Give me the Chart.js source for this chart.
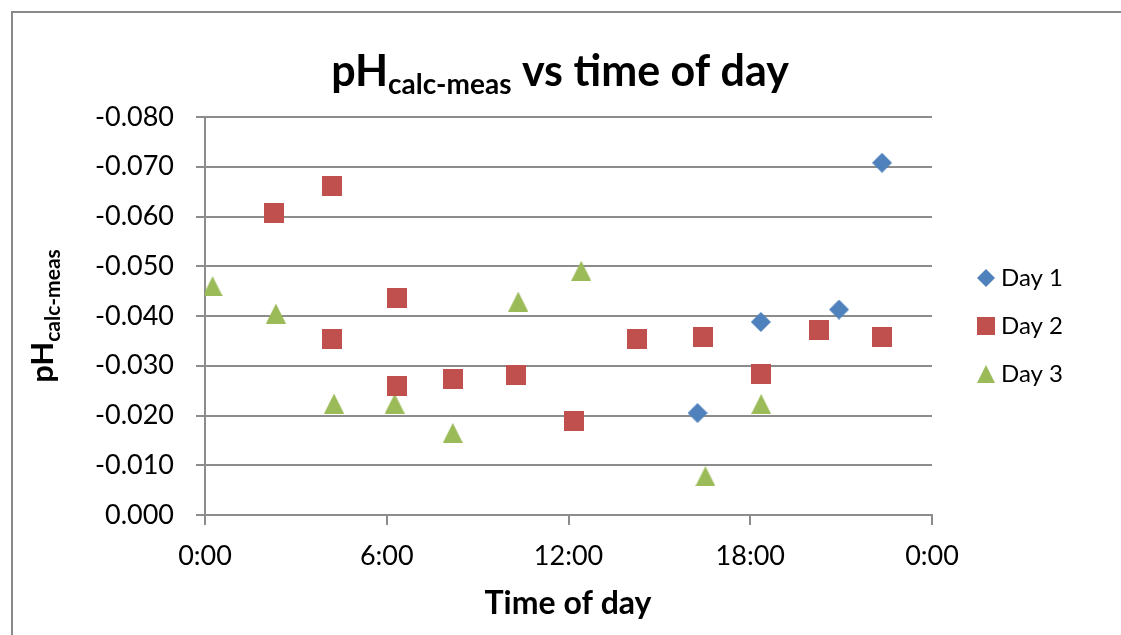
<!DOCTYPE html>
<html>
<head>
<meta charset="utf-8">
<title>pH calc-meas vs time of day</title>
<script src="https://cdn.jsdelivr.net/npm/chart.js@4.4.1/dist/chart.umd.min.js"></script>
<style>
    html, body { margin: 0; padding: 0; background: #fff; }
    .wrap { position: relative; width: 1121px; height: 635px; overflow: hidden; }
    .frame { position: absolute; left: 11px; top: 11px; width: 1200px; height: 700px; border: 2px solid #898989; }
    #phChart { position: absolute; left: 0; top: 0; }
</style>
</head>
<body>
<div class="wrap">
    <div class="frame"></div>
    <canvas id="phChart" width="1121" height="635"></canvas>
</div>
<script>
// values (x in hours of the day)
const day1Hours = [16.26, 18.35, 20.93, 22.35];
const day1Values = [-0.0205, -0.0388, -0.0413, -0.0708];

const day2Hours = [2.27, 4.18, 4.18, 6.35, 6.34, 8.18, 10.26, 12.18, 14.27, 16.43, 18.36, 20.26, 22.35];
const day2Values = [-0.0608, -0.0662, -0.0353, -0.0436, -0.0259, -0.0274, -0.0281, -0.0188, -0.0354, -0.0357, -0.0283, -0.0371, -0.0358];

const day3Hours = [0.25, 2.34, 4.26, 6.26, 8.18, 10.34, 12.42, 16.52, 18.36];
const day3Values = [-0.046, -0.0405, -0.0224, -0.0224, -0.0165, -0.0429, -0.0491, -0.0078, -0.0223];

const seriesNames = ['Day 1', 'Day 2', 'Day 3'];
const xTickLabels = ['0:00', '6:00', '12:00', '18:00', '0:00'];

const FONT = 'Lato, "Open Sans", sans-serif';
const GRID = '#8c8c8c';
const colors = ['#4F81BD', '#C0504D', '#9BBB59'];
const shapes = ['diamond', 'square', 'triangle'];

// Excel-like markers, centred on their bounding box
function makeMarker(shape, size, color) {
    const c = document.createElement('canvas');
    c.width = size;
    c.height = size;
    const g = c.getContext('2d');
    const h = size / 2;
    g.fillStyle = color;
    g.beginPath();
    if (shape === 'diamond') {
        g.moveTo(h, 0); g.lineTo(size, h); g.lineTo(h, size); g.lineTo(0, h);
    } else if (shape === 'square') {
        g.rect(0, 0, size, size);
    } else {
        g.moveTo(h, 0); g.lineTo(size, size); g.lineTo(0, size);
    }
    g.closePath();
    g.fill();
    return c;
}

function toPoints(xs, ys) {
    return xs.map((x, i) => ({ x: x, y: ys[i] }));
}

// draws "main" + subscript + "rest", centred on x=0 of the current transform
function drawSubText(ctx, main, sub, rest, mainFont, subFont, baseline, subShift) {
    ctx.font = mainFont;
    const w1 = ctx.measureText(main).width;
    const w3 = ctx.measureText(rest).width;
    ctx.font = subFont;
    const w2 = ctx.measureText(sub).width;
    let x = -(w1 + w2 + w3) / 2;
    ctx.textAlign = 'left';
    ctx.textBaseline = 'alphabetic';
    ctx.font = mainFont;
    ctx.fillText(main, x, baseline);
    x += w1;
    ctx.font = subFont;
    ctx.fillText(sub, x, baseline + subShift);
    x += w2;
    ctx.font = mainFont;
    ctx.fillText(rest, x, baseline);
}

const textPlugin = {
    id: 'textPlugin',
    afterDraw(chart) {
        const ctx = chart.ctx;
        ctx.save();
        ctx.fillStyle = '#000';

        // chart title
        ctx.save();
        ctx.translate(560, 0);
        drawSubText(ctx, 'pH', 'calc-meas', ' vs time of day',
            'bold 43px ' + FONT, 'bold 28px ' + FONT, 86, 8);
        ctx.restore();

        // y axis title
        ctx.save();
        ctx.translate(53, 316);
        ctx.rotate(-Math.PI / 2);
        drawSubText(ctx, 'pH', 'calc-meas', '',
            'bold 31px ' + FONT, 'bold 21px ' + FONT, 0, 7);
        ctx.restore();

        // x axis title
        ctx.font = 'bold 32px ' + FONT;
        ctx.textAlign = 'center';
        ctx.textBaseline = 'alphabetic';
        ctx.fillText('Time of day', 568, 614);

        // legend
        ctx.font = '24px ' + FONT;
        ctx.textAlign = 'left';
        ctx.textBaseline = 'middle';
        seriesNames.forEach((name, i) => {
            const y = 278 + i * 48;
            const m = makeMarker(shapes[i], 18, colors[i]);
            ctx.drawImage(m, 986 - 9, y - 9);
            ctx.fillText(name, 1001, y);
        });
        ctx.restore();
    }
};

const markers = shapes.map((s, i) => makeMarker(s, 20, colors[i]));

const ctx = document.getElementById('phChart').getContext('2d');
new Chart(ctx, {
    type: 'scatter',
    data: {
        datasets: [
            { label: seriesNames[0], data: toPoints(day1Hours, day1Values), pointStyle: markers[0], pointRadius: 10, backgroundColor: colors[0], borderColor: colors[0] },
            { label: seriesNames[1], data: toPoints(day2Hours, day2Values), pointStyle: markers[1], pointRadius: 10, backgroundColor: colors[1], borderColor: colors[1] },
            { label: seriesNames[2], data: toPoints(day3Hours, day3Values), pointStyle: markers[2], pointRadius: 10, backgroundColor: colors[2], borderColor: colors[2] }
        ]
    },
    options: {
        responsive: false,
        animation: false,
        layout: { padding: { top: 117, right: 189, bottom: 0, left: 0 } },
        plugins: {
            legend: { display: false },
            title: { display: false },
            tooltip: { enabled: false }
        },
        scales: {
            x: {
                type: 'linear',
                min: 0,
                max: 24,
                afterFit: s => { s.height = 120; },
                ticks: {
                    stepSize: 6,
                    maxRotation: 0,
                    padding: 15,
                    color: '#000',
                    font: { family: FONT, size: 27 },
                    callback: (v, i) => xTickLabels[i]
                },
                grid: { drawOnChartArea: false, drawTicks: true, tickLength: 10, color: GRID, lineWidth: 2 },
                border: { display: true, color: GRID, width: 2 }
            },
            y: {
                min: -0.08,
                max: 0,
                reverse: true,
                afterFit: s => { s.width = 205; },
                ticks: {
                    stepSize: 0.01,
                    padding: 22,
                    color: '#000',
                    font: { family: FONT, size: 27 },
                    callback: v => v.toFixed(3)
                },
                grid: { drawOnChartArea: true, drawTicks: true, tickLength: 9, color: GRID, lineWidth: 2 },
                border: { display: true, color: GRID, width: 2 }
            }
        }
    },
    plugins: [textPlugin]
});
</script>
</body>
</html>
